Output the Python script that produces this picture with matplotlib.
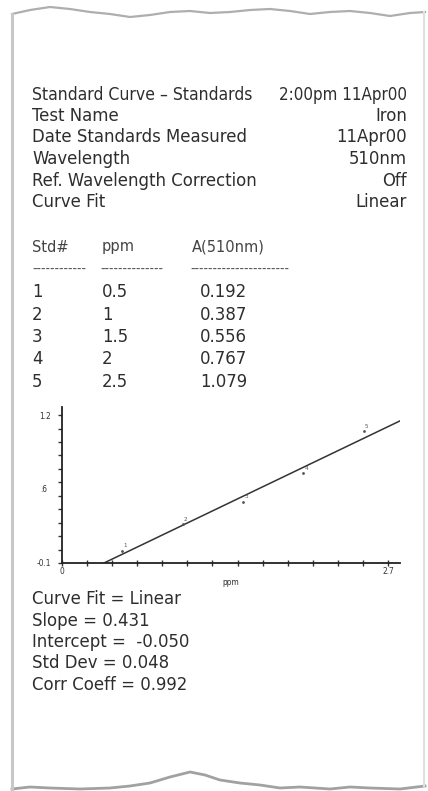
import numpy as np
import matplotlib.pyplot as plt

plt.rcParams['font.family'] = ['DejaVu Sans']
plt.rcParams['font.stretch'] = 'condensed'

# header lines of the printout
header_left = 'Standard Curve \u2013 Standards'
header_right = '2:00pm 11Apr00'
info_names = ['Test Name', 'Date Standards Measured', 'Wavelength',
              'Ref. Wavelength Correction', 'Curve Fit']
info_values = ['Iron', '11Apr00', '510nm', 'Off', 'Linear']

# standards table
std_no = [1, 2, 3, 4, 5]
ppm = [0.5, 1, 1.5, 2, 2.5]
absorb = [0.192, 0.387, 0.556, 0.767, 1.079]

# fit results
slope = 0.431
intercept = -0.050
std_dev = 0.048
corr_coeff = 0.992

W, H = 428, 791
ink = '#2e2e2e'
fs = 13.2

fig = plt.figure(figsize=(W / 100, H / 100), dpi=100)
fig.patch.set_facecolor('white')

# paper background in pixel coordinates
bg = fig.add_axes([0, 0, 1, 1])
bg.set_xlim(0, W)
bg.set_ylim(H, 0)
bg.axis('off')

# torn top edge, torn bottom edge, side shadows (decoration only)
top_x = [12, 30, 50, 70, 90, 110, 130, 150, 170, 190, 210, 230, 250, 270, 290, 310, 330, 350, 370, 390, 410, 425]
top_y = [14, 10, 7, 9, 12, 14, 17, 15, 12, 11, 13, 12, 10, 9, 11, 14, 12, 11, 13, 16, 13, 12]
bot_x = [12, 30, 50, 80, 110, 130, 150, 170, 190, 205, 220, 240, 260, 280, 300, 330, 350, 370, 400, 425]
bot_y = [789, 787, 788, 789, 788, 786, 783, 777, 772, 775, 780, 783, 785, 788, 787, 789, 787, 788, 789, 786]
bg.plot(top_x, top_y, color='#9a9a9a', lw=1.6, alpha=0.8, zorder=2)
bg.plot(bot_x, bot_y, color='#8a8a8a', lw=2.0, alpha=0.8, zorder=2)
bg.plot([12, 12], [14, 789], color='#c8c8c8', lw=2.2, zorder=2)
bg.plot([424, 424], [12, 786], color='#e0e0e0', lw=1.5, zorder=2)

# text block
xl, xr = 32, 407
bg.text(xl, 95, header_left, fontsize=12.6, color=ink, va='center', ha='left')
bg.text(xr, 95, header_right, fontsize=12.2, color=ink, va='center', ha='right')
for i, (n, v) in enumerate(zip(info_names, info_values)):
    y = 116 + i * 21.5
    bg.text(xl, y, n, fontsize=fs, color=ink, va='center', ha='left')
    bg.text(xr, y, v, fontsize=fs, color=ink, va='center', ha='right')

c1, c2, c3 = 32, 102, 192
bg.text(c1, 247, 'Std#', fontsize=fs - 1.5, color='#444444', va='center')
bg.text(c2, 247, 'ppm', fontsize=fs - 1.5, color='#444444', va='center')
bg.text(c3, 247, 'A(510nm)', fontsize=fs - 1.5, color='#444444', va='center')
bg.text(c1, 270, '-' * 12, fontsize=10, color='#555555', va='center')
bg.text(c2 - 2, 270, '-' * 14, fontsize=10, color='#555555', va='center')
bg.text(c3 - 2, 270, '-' * 22, fontsize=10, color='#555555', va='center')
for i in range(len(std_no)):
    y = 292 + i * 22.5
    bg.text(c1, y, str(std_no[i]), fontsize=fs, color=ink, va='center')
    bg.text(c2, y, '%g' % ppm[i], fontsize=fs, color=ink, va='center')
    bg.text(c3 + 8, y, '%.3f' % absorb[i], fontsize=fs, color=ink, va='center')

fit_lines = ['Curve Fit = Linear',
             'Slope = %.3f' % slope,
             'Intercept =  %.3f' % intercept,
             'Std Dev = %.3f' % std_dev,
             'Corr Coeff = %.3f' % corr_coeff]
for i, t in enumerate(fit_lines):
    bg.text(xl, 599 + i * 21.5, t, fontsize=fs, color=ink, va='center')

# calibration plot
x0, x1, ytop, ybot = 62, 400, 407, 563
ax = fig.add_axes([x0 / W, (H - ybot) / H, (x1 - x0) / W, (ybot - ytop) / H])
ax.patch.set_alpha(0)
ax.set_xlim(0, 2.8)
ax.set_ylim(0.1, 1.26)
for s in ['top', 'right']:
    ax.spines[s].set_visible(False)
for s in ['left', 'bottom']:
    ax.spines[s].set_color('#222222')
    ax.spines[s].set_linewidth(1.3)

xx = np.linspace(0, 2.8, 50)
ax.plot(xx, intercept + slope * xx, color='#333333', lw=1.1)
ax.plot(ppm, absorb, linestyle='none', marker='.', ms=2, color='#555555')
for n, px, py in zip(std_no, ppm, absorb):
    ax.annotate(str(n), (px, py), xytext=(2, 2), textcoords='offset points',
                fontsize=4.5, color='#555555', ha='center', va='bottom')

yt = np.arange(0.1, 1.21, 0.1)
ax.set_yticks(yt)
ax.set_yticklabels(['-0.1'] + [''] * (len(yt) - 2) + ['1.2'])
ax.text(-0.12, 0.65, '.6', fontsize=6, color=ink, ha='right', va='center')
xt = np.linspace(0, 2.7, 14)
ax.set_xticks(xt)
ax.set_xticklabels(['0'] + [''] * (len(xt) - 2) + ['2.7'])
ax.tick_params(axis='y', direction='out', length=3, width=1, labelsize=6, pad=5, colors='#333333')
ax.tick_params(axis='x', direction='inout', length=4, width=1, labelsize=6, pad=1, colors='#333333')
ax.set_xlabel('ppm', fontsize=6, labelpad=1, color=ink)

fig.savefig('out.png', dpi=100)
